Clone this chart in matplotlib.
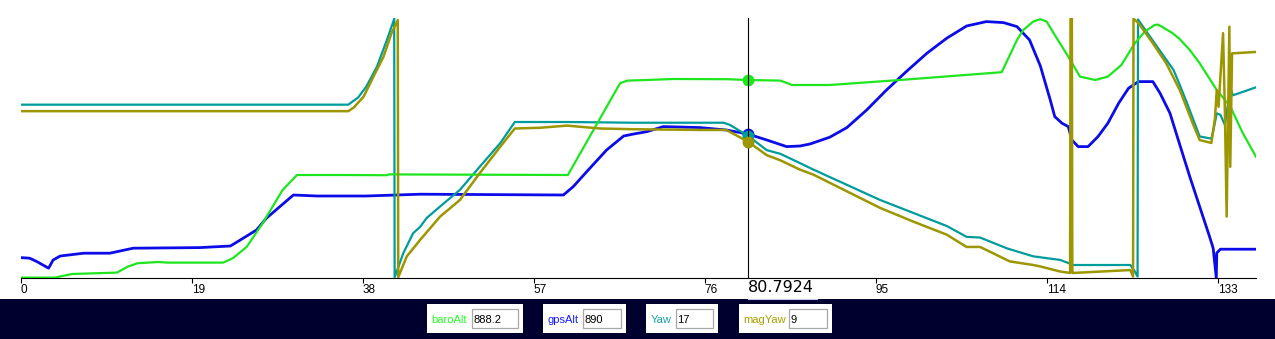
import matplotlib
matplotlib.use("Agg")
import matplotlib.pyplot as plt
from matplotlib.patches import Rectangle
from matplotlib.lines import Line2D

W, H = 1275, 339

# barometric altitude (m)
baro_t = [0, 3.8, 5.7, 10.7, 11.9, 13.0, 15.3, 16.3, 22.5, 23.6,
          25.1, 26.9, 29.1, 30.7, 35.8, 40.7, 40.9, 60.8, 66.6, 67.4,
          69.6, 72.5, 78.5, 80.79, 84.4, 85.5, 85.7, 89.9, 97.7, 109.0,
          110.0, 110.7, 111.4, 112.5, 113.3, 114.0, 114.9, 116.4, 117.7, 119.4,
          120.8, 122.3, 123.8, 124.9, 126.0, 126.4, 128.0, 128.8, 129.9, 131.0,
          132.9, 134.4, 135.8, 137.25]
baro_alt = [789.4, 789.4, 791.2, 791.9, 794.9, 796.6, 797.2, 796.9, 796.9, 799.2,
            804.7, 816.7, 833.2, 840.7, 840.7, 840.6, 841.0, 840.7, 886.6, 887.9,
            888.2, 888.7, 888.6, 888.2, 887.9, 886.1, 885.7, 885.7, 888.2, 892.1,
            901.5, 908.2, 913.2, 917.4, 918.6, 917.4, 910.7, 899.9, 889.9, 888.2,
            889.9, 895.7, 906.6, 912.4, 915.7, 915.9, 911.6, 908.6, 903.2, 896.6,
            883.2, 874.9, 861.6, 849.9]

# gps altitude (m)
gps_t = [0, 1.0, 1.8, 3.1, 3.6, 4.4, 7.0, 9.9, 12.5, 19.9,
         23.3, 24.4, 26.2, 27.3, 28.8, 30.3, 32.9, 38.4, 44.4, 60.3,
         61.4, 62.9, 65.1, 67.0, 68.1, 69.6, 71.4, 75.5, 78.4, 80.79,
         82.9, 85.1, 86.6, 87.7, 89.9, 91.8, 94.0, 96.2, 98.4, 100.7,
         102.9, 105.1, 107.3, 109.2, 110.7, 112.1, 113.3, 114.4, 114.9, 115.7,
         116.4, 116.8, 117.5, 118.6, 119.7, 120.8, 122.0, 123.1, 124.2, 125.8,
         126.6, 127.7, 128.8, 129.9, 131.0, 132.1, 132.5, 132.85, 132.9, 133.3,
         137.2]
gps_alt = [828.2, 827.9, 826.2, 822.9, 827.0, 829.0, 830.4, 830.4, 832.9, 833.2,
           834.0, 837.0, 842.0, 847.9, 853.7, 859.5, 859.0, 859.0, 859.9, 859.5,
           863.7, 871.2, 882.0, 889.0, 890.0, 891.2, 893.7, 893.2, 892.0, 890.0,
           887.0, 883.7, 884.0, 885.0, 888.4, 893.2, 902.0, 912.0, 921.2, 930.4,
           937.9, 944.0, 946.2, 945.7, 943.7, 937.0, 924.0, 907.0, 898.7, 895.4,
           893.7, 887.0, 883.7, 883.7, 888.7, 895.4, 905.4, 912.9, 916.2, 916.2,
           910.4, 900.4, 884.5, 868.7, 853.7, 838.7, 832.9, 818.0, 830.5, 832.4,
           832.4]

# yaw (deg, wraps at +-180)
yaw_t = [0, 36.4, 37.5, 38.4, 39.6, 40.7, 41.4, 41.5, 41.55, 42.5,
         43.6, 44.4, 45.1, 46.6, 48.8, 51.0, 53.3, 54.9, 60.7, 68.1,
         78.1, 78.8, 80.79, 82.9, 84.4, 86.6, 88.1, 91.8, 95.5, 99.2,
         102.9, 105.1, 106.6, 109.6, 112.5, 115.5, 117.0, 123.3, 123.8, 124.1,
         124.15, 126.0, 128.1, 128.8, 129.6, 130.3, 131.0, 132.3, 132.5, 132.9,
         133.3, 133.8, 134.2, 134.4, 134.7, 137.25]
yaw = [60, 60, 70, 85, 113, 150, 175, 179, -179, -146,
       -118, -109, -97, -81, -58, -26, 7, 36, 36, 35,
       35, 32, 17, -3, -8, -21, -30, -51, -72, -90,
       -108, -123, -124, -139, -150, -155, -162, -162, -171, -178,
       178, 145, 108, 87, 62, 39, 16, 13, 23, 48,
       46, 32, 66, 83, 73, 84]

# magnetometer yaw (deg)
mag_t = [0, 36.4, 37.0, 38.1, 39.2, 40.3, 41.2, 41.9, 41.95, 42.9,
         44.4, 46.6, 48.8, 51.0, 53.3, 54.9, 57.7, 60.7, 64.4, 68.1,
         75.5, 78.4, 80.79, 82.9, 84.4, 86.6, 88.1, 91.8, 95.5, 99.2,
         102.9, 105.1, 106.6, 109.9, 112.5, 113.3, 115.5, 116.6, 116.65, 116.8,
         116.85, 116.95, 123.3, 123.6, 123.65, 124.2, 125.8, 127.3, 128.8, 130.3,
         131.0, 132.3, 132.7, 132.9, 133.1, 133.6, 133.8, 134.0, 134.3, 134.4,
         134.6, 137.25]
mag_yaw = [51, 51, 56, 71, 99, 126, 159, 177, -179, -150,
           -127, -95, -72, -35, 2, 27, 28, 31, 27, 26,
           25, 25, 9, -10, -17, -30, -37, -60, -83, -102,
           -120, -137, -137, -157, -162, -164, -171, -173, 179, 179,
           -173, -173, -169, -178, 179, 173, 145, 117, 80, 32,
           11, 7, 41, 80, 57, 159, 53, -95, 168, -26,
           131, 133]

ticks = [0, 19, 38, 57, 76, 95, 114, 133]
cursor_t = 80.7924
names = ["baroAlt", "gpsAlt", "Yaw", "magYaw"]
readouts = ["888.2", "890", "17", "9"]
cursor_vals = [888.2, 890, 17, 9]

c_baro = "#1ee61e"
c_gps = "#0c0ce8"
c_yaw = "#009c9c"
c_mag = "#9c9600"
c_label = ["#22ff22", "#1a1aff", "#19a3a3", "#a89f00"]

fig = plt.figure(figsize=(W / 100, H / 100), dpi=100)
fig.patch.set_facecolor("white")
rect = [20.7 / W, 1 - 278 / H, 1235.3 / W, 260 / H]


def layer(name, ylim):
    ax = fig.add_axes(rect, label=name)
    ax.set_xlim(0, 137.26)
    ax.set_ylim(*ylim)
    ax.patch.set_visible(False)
    for s in ax.spines.values():
        s.set_visible(False)
    ax.set_yticks([])
    ax.set_xticks([])
    return ax


ax_gps = layer("gps", (818, 948))
ax_yaw = layer("yaw", (-180, 180))
ax_baro = layer("baro", (789.2, 919.2))
ax_mag = layer("mag", (-180, 180))

ax_gps.plot(gps_t, gps_alt, color=c_gps, lw=2.0)
ax_yaw.plot(yaw_t, yaw, color=c_yaw, lw=1.6)
ax_baro.plot(baro_t, baro_alt, color=c_baro, lw=1.6)
ax_mag.plot(mag_t, mag_yaw, color=c_mag, lw=1.8)

# time axis on the bottom layer
ax_gps.spines["bottom"].set_visible(True)
ax_gps.spines["bottom"].set_color("black")
ax_gps.spines["bottom"].set_linewidth(0.8)
ax_gps.set_xticks(ticks)
ax_gps.set_xticklabels([str(t) for t in ticks], fontsize=8.5,
                       family="Liberation Sans")
ax_gps.tick_params(axis="x", direction="out", length=3.6, width=0.8, pad=1.0)
for lbl in ax_gps.get_xticklabels():
    lbl.set_horizontalalignment("left")

# cursor and the values under it
ax_mag.axvline(cursor_t, color="black", lw=0.8, zorder=1)
for ax, v, c in zip([ax_baro, ax_gps, ax_yaw, ax_mag], cursor_vals,
                    [c_baro, c_gps, c_yaw, c_mag]):
    ax.plot([cursor_t], [v], "o", color=c, ms=7.5, zorder=6)

fig.text(747.5 / W, 1 - 292.5 / H, "%.4f" % cursor_t, fontsize=11.5,
         family="DejaVu Sans", va="baseline", ha="left")

# bottom bar
fig.patches.append(Rectangle((0, 0), 1, 40 / H, transform=fig.transFigure,
                             facecolor="#00002f", edgecolor="none"))
fig.lines.append(Line2D([747.7 / W, 817 / W], [1 - 298.5 / H] * 2,
                        transform=fig.transFigure, color="#c4c4ec", lw=0.8))

panels = [(427, 523, 472, 518), (543, 626, 583, 621),
          (646, 718, 676, 713), (739, 832, 789, 827)]
for (p0, p1, i0, i1), name, val, col in zip(panels, names, readouts, c_label):
    fig.patches.append(Rectangle((p0 / W, 1 - 333.3 / H), (p1 - p0) / W, 29 / H,
                                 transform=fig.transFigure,
                                 facecolor="white", edgecolor="none"))
    fig.patches.append(Rectangle((i0 / W, 1 - 328.3 / H), (i1 - i0) / W, 19 / H,
                                 transform=fig.transFigure, facecolor="white",
                                 edgecolor="#a8a8a8", lw=0.9))
    fig.text((p0 + 4.5) / W, 1 - 323.3 / H, name, color=col, fontsize=8,
             family="Liberation Sans", va="baseline", ha="left")
    fig.text((i0 + 1.5) / W, 1 - 323.3 / H, val, color="black", fontsize=8,
             family="Liberation Sans", va="baseline", ha="left")

fig.savefig("out.png", dpi=100, facecolor="white")
